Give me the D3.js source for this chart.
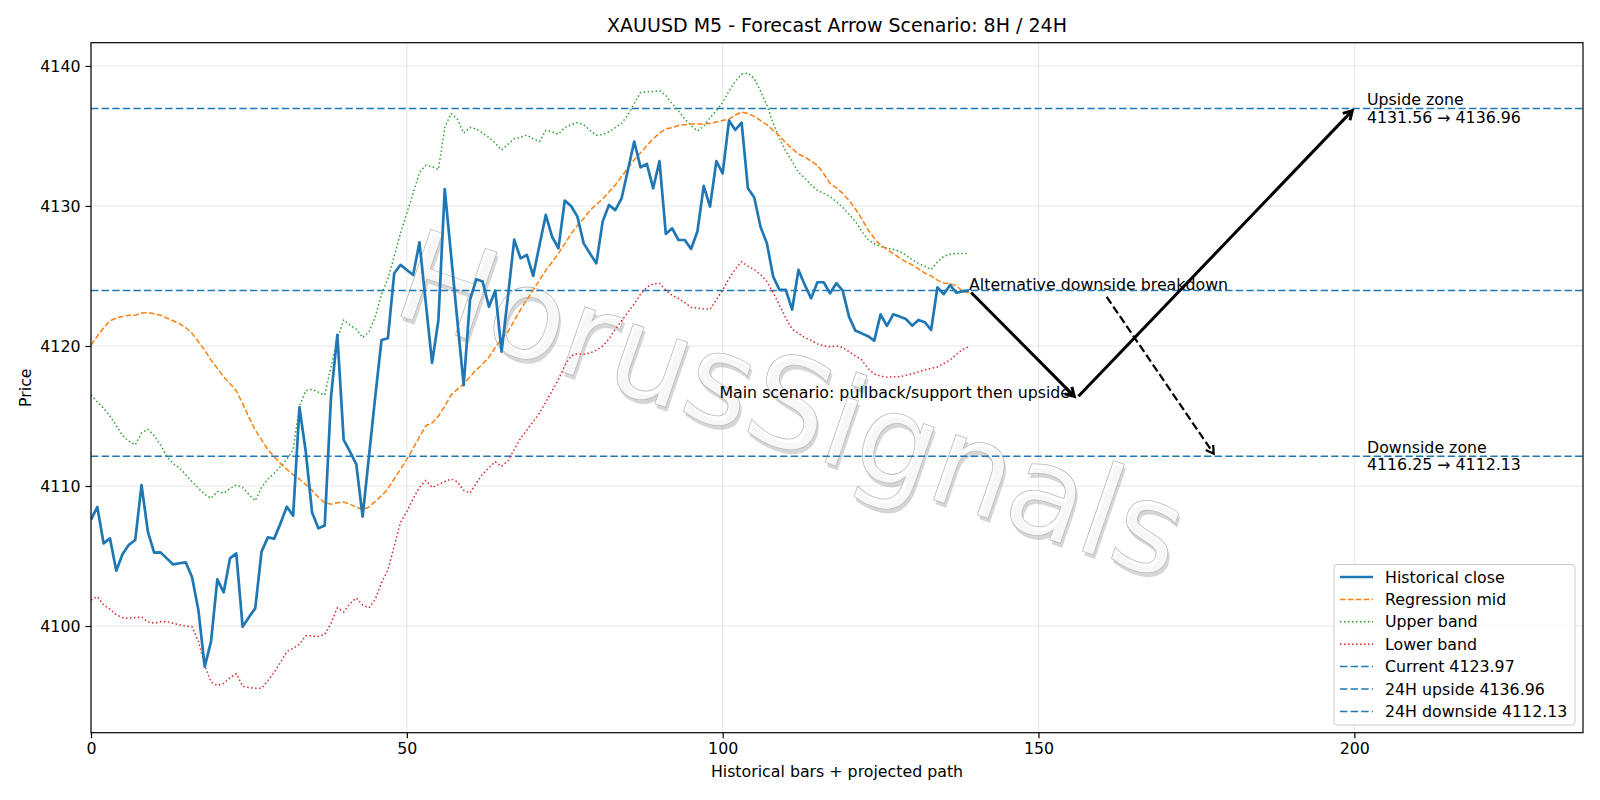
<!DOCTYPE html>
<html>
<head>
<meta charset="utf-8">
<script src="https://cdn.jsdelivr.net/npm/d3@7"></script>
<style>
  body { margin: 0; background: #fff; }
  text { font-family: "DejaVu Sans", sans-serif; }
</style>
</head>
<body>
<svg id="chart" width="1600" height="800"></svg>
<script>
// historical series, one value per bar (index 0..139)
const closeVals = [4107.6,4108.5,4105.9,4106.26,4103.95,4105.14,4105.8,4106.14,4110.07,4106.74,
  4105.24,4105.26,4104.83,4104.4,4104.48,4104.55,4103.48,4101.14,4097.1,4098.88,
  4103.33,4102.4,4104.83,4105.19,4099.95,4100.62,4101.26,4105.31,4106.33,4106.24,
  4107.33,4108.52,4107.88,4115.62,4112.45,4108.1,4106.98,4107.17,4116.38,4120.79,
  4113.29,4112.45,4111.55,4107.81,4112.1,4116.38,4120.43,4120.55,4125.19,4125.79,
  4125.43,4125.07,4127.4,4123.1,4118.8,4121.86,4131.2,4126.5,4121.8,4117.2,
  4123.3,4124.76,4124.6,4122.8,4123.95,4119.6,4123.5,4127.6,4126.26,4126.5,
  4125.0,4127.2,4129.36,4127.8,4126.98,4130.38,4130.0,4129.24,4127.33,4126.6,
  4125.9,4128.88,4130.07,4129.7,4130.55,4132.57,4134.6,4132.76,4133.0,4131.26,
  4133.2,4128.0,4128.4,4127.57,4127.57,4126.93,4128.17,4131.43,4129.95,4133.2,
  4132.33,4136.1,4135.43,4135.95,4131.26,4130.6,4128.5,4127.33,4124.95,4124.0,
  4124.0,4122.6,4125.43,4124.36,4123.4,4124.55,4124.55,4123.76,4124.48,4123.95,
  4122.1,4121.1,4120.9,4120.7,4120.38,4122.26,4121.43,4122.26,4122.1,4121.93,
  4121.45,4121.86,4121.7,4121.14,4124.19,4123.7,4124.36,4123.8,4123.9,4123.97];

const midVals = [4120.07,4120.7,4121.3,4121.8,4122.0,4122.1,4122.2,4122.2,4122.35,4122.38,
  4122.3,4122.2,4122.0,4121.8,4121.6,4121.3,4120.9,4120.3,4119.7,4119.0,
  4118.4,4117.8,4117.3,4116.8,4115.9,4114.9,4114.0,4113.3,4112.6,4112.1,
  4111.6,4111.2,4110.8,4110.5,4110.1,4109.7,4109.2,4108.8,4108.7,4108.8,
  4108.85,4108.7,4108.5,4108.3,4108.5,4108.9,4109.3,4109.8,4110.5,4111.2,
  4111.9,4112.7,4113.5,4114.3,4114.5,4115.0,4115.7,4116.5,4116.9,4117.3,
  4117.8,4118.3,4118.7,4119.2,4119.9,4120.5,4121.0,4121.8,4122.6,4123.3,
  4124.0,4124.7,4125.4,4126.0,4126.6,4127.3,4128.0,4128.6,4129.1,4129.7,
  4130.1,4130.5,4131.0,4131.5,4132.1,4132.7,4133.3,4133.8,4134.3,4134.8,
  4135.2,4135.5,4135.6,4135.75,4135.8,4135.85,4135.85,4135.85,4135.9,4136.0,
  4136.1,4136.2,4136.5,4136.7,4136.6,4136.4,4136.1,4135.8,4135.4,4135.0,
  4134.5,4134.1,4133.7,4133.5,4133.2,4132.9,4132.3,4131.6,4131.3,4130.9,
  4130.4,4129.8,4129.1,4128.3,4127.7,4127.2,4126.9,4126.6,4126.3,4126.0,
  4125.8,4125.5,4125.2,4125.0,4124.7,4124.5,4124.45,4124.3,4123.9,4123.8];

const upperVals = [4116.5,4116.0,4115.55,4115.0,4114.3,4113.6,4113.2,4112.93,4113.8,4114.05,
  4113.6,4112.93,4112.1,4111.6,4111.3,4110.8,4110.3,4109.85,4109.4,4109.12,
  4109.6,4109.5,4109.8,4110.07,4109.9,4109.4,4108.95,4109.9,4110.5,4110.9,
  4111.38,4111.9,4112.6,4115.7,4116.8,4116.9,4116.7,4116.5,4118.5,4120.5,
  4121.86,4121.5,4121.2,4120.6,4121.0,4122.1,4123.7,4124.8,4126.4,4128.05,
  4129.5,4130.9,4132.4,4132.9,4132.8,4132.6,4135.6,4136.6,4136.2,4135.2,
  4135.6,4135.5,4135.2,4134.9,4134.5,4134.0,4134.4,4134.8,4134.9,4135.07,
  4134.8,4134.6,4135.4,4135.3,4135.12,4135.6,4135.8,4135.95,4135.8,4135.4,
  4135.05,4135.1,4135.3,4135.6,4135.9,4136.5,4137.33,4138.1,4138.15,4138.17,
  4138.24,4137.9,4137.3,4136.8,4136.2,4135.75,4135.35,4135.7,4136.3,4136.8,
  4137.4,4138.2,4138.9,4139.4,4139.5,4139.1,4138.2,4137.2,4135.9,4134.8,
  4133.9,4133.2,4132.4,4132.0,4131.5,4131.1,4130.9,4130.67,4130.3,4129.9,
  4129.4,4128.9,4128.2,4127.6,4127.3,4127.1,4127.0,4126.9,4126.75,4126.5,
  4126.15,4125.9,4125.7,4125.45,4126.0,4126.4,4126.55,4126.6,4126.6,4126.6];

const lowerVals = [4101.86,4102.1,4101.5,4101.2,4100.8,4100.6,4100.55,4100.6,4100.65,4100.3,
  4100.2,4100.3,4100.3,4100.2,4100.07,4100.0,4099.95,4098.9,4097.2,4096.0,
  4095.75,4095.9,4096.3,4096.6,4095.7,4095.6,4095.55,4095.55,4096.1,4096.7,
  4097.4,4098.17,4098.4,4098.7,4099.3,4099.3,4099.25,4099.4,4100.2,4101.3,
  4101.0,4101.6,4102.0,4101.5,4101.3,4101.9,4103.1,4104.0,4105.7,4107.4,
  4108.17,4109.1,4109.9,4110.4,4109.9,4110.1,4110.3,4110.5,4110.3,4109.7,
  4109.5,4110.2,4110.85,4111.3,4111.74,4111.4,4111.8,4112.6,4113.4,4114.0,
  4114.6,4115.2,4116.0,4116.8,4117.6,4118.6,4119.3,4119.45,4119.4,4119.5,
  4119.7,4120.0,4120.5,4121.2,4121.8,4122.4,4123.0,4123.7,4124.2,4124.43,
  4124.48,4124.0,4123.6,4123.4,4123.1,4122.75,4122.7,4122.65,4122.62,4123.3,
  4124.0,4124.8,4125.5,4126.02,4125.7,4125.45,4125.1,4124.6,4123.8,4122.9,
  4122.0,4121.2,4120.9,4120.6,4120.4,4120.15,4120.0,4119.95,4120.0,4119.9,
  4119.6,4119.3,4119.0,4118.4,4118.0,4117.85,4117.76,4117.8,4117.8,4117.9,
  4118.0,4118.15,4118.3,4118.4,4118.5,4118.75,4119.0,4119.4,4119.75,4119.95];

// levels and projected path
const currentPrice = 4123.97;
const upside24 = 4136.96;
const downside24 = 4112.13;
const upsideZone = [4131.56, 4136.96];
const downsideZone = [4116.25, 4112.13];
const pivotPoint = [156, 4116.25];
const upsideTarget = [200, 4136.96];
const altTarget = [178, 4112.13];

const xTicks = [0, 50, 100, 150, 200];
const yTicks = [4100, 4110, 4120, 4130, 4140];
const xLimits = [0, 236.2];
const yLimits = [4092.38, 4141.66];

const svg = d3.select('#chart');
const pL = 91, pR = 1583, pT = 42.7, pB = 732.7;
const fs = 15.8;

const x = d3.scaleLinear().domain(xLimits).range([pL, pR]);
const y = d3.scaleLinear().domain(yLimits).range([pB, pT]);

// grid
const grid = svg.append('g').attr('stroke', '#b0b0b0').attr('stroke-opacity', 0.3).attr('stroke-width', 1);
xTicks.forEach(t => grid.append('line').attr('x1', x(t)).attr('x2', x(t)).attr('y1', pT).attr('y2', pB));
yTicks.forEach(t => grid.append('line').attr('x1', pL).attr('x2', pR).attr('y1', y(t)).attr('y2', y(t)));

// watermark
const wm = svg.append('g').attr('transform', 'translate(792,405) rotate(19)');
wm.append('text').text('HorusSignals')
  .attr('x', 3).attr('y', 3.5)
  .attr('text-anchor', 'middle').attr('dominant-baseline', 'central')
  .attr('font-size', 126).attr('fill', '#777').attr('fill-opacity', 0.3);
wm.append('text').text('HorusSignals')
  .attr('text-anchor', 'middle').attr('dominant-baseline', 'central')
  .attr('font-size', 126).attr('fill', '#fff').attr('fill-opacity', 0.8)
  .attr('stroke', '#bbb').attr('stroke-width', 0.8);

const plot = svg.append('g');
plot.append('clipPath').attr('id', 'clip').append('rect')
  .attr('x', pL).attr('y', pT).attr('width', pR - pL).attr('height', pB - pT);
const inner = plot.append('g').attr('clip-path', 'url(#clip)');

const line = d3.line().x((d, i) => x(i)).y(d => y(d));

const series = [
  { vals: upperVals, color: '#2ca02c', w: 1.5, dash: '1.5,2.5' },
  { vals: lowerVals, color: '#d62728', w: 1.5, dash: '1.5,2.5' },
  { vals: midVals, color: '#ff7f0e', w: 1.5, dash: '5.5,2.4' },
  { vals: closeVals, color: '#1f77b4', w: 2.7, dash: null }
];

// level lines
[currentPrice, upside24, downside24].forEach(v => {
  inner.append('line').attr('x1', pL).attr('x2', pR).attr('y1', y(v)).attr('y2', y(v))
    .attr('stroke', '#1f77b4').attr('stroke-width', 1.5).attr('stroke-dasharray', '7.4,3.2');
});

series.forEach(s => {
  inner.append('path').datum(s.vals).attr('d', line)
    .attr('fill', 'none').attr('stroke', s.color).attr('stroke-width', s.w)
    .attr('stroke-dasharray', s.dash).attr('stroke-linejoin', 'round');
});

// arrows
function arrow(p1, p2, opts) {
  const dx = p2[0] - p1[0], dy = p2[1] - p1[1];
  const len = Math.hypot(dx, dy);
  const ux = dx / len, uy = dy / len;
  const a = [p1[0] + ux * opts.shrinkA, p1[1] + uy * opts.shrinkA];
  const b = [p2[0] - ux * 3, p2[1] - uy * 3];
  plot.append('line').attr('x1', a[0]).attr('y1', a[1]).attr('x2', b[0] - ux).attr('y2', b[1] - uy)
    .attr('stroke', '#000').attr('stroke-width', opts.w)
    .attr('stroke-dasharray', opts.dash || null);
  const hl = opts.hl, hw = opts.hw;
  const bx = b[0] - ux * hl, by = b[1] - uy * hl;
  plot.append('path')
    .attr('d', `M${bx - uy * hw},${by + ux * hw}L${b[0]},${b[1]}L${bx + uy * hw},${by - ux * hw}`)
    .attr('fill', 'none').attr('stroke', '#000').attr('stroke-width', opts.w)
    .attr('stroke-linejoin', 'miter');
}

const lastIdx = closeVals.length - 1;
arrow([x(lastIdx), y(currentPrice)], [x(pivotPoint[0]), y(pivotPoint[1])], { shrinkA: 3, w: 3, hl: 8.5, hw: 5 });
arrow([x(pivotPoint[0]), y(pivotPoint[1])], [x(upsideTarget[0]), y(upsideTarget[1])], { shrinkA: 3, w: 3, hl: 8.5, hw: 5 });

// annotation texts
const altText = plot.append('text').attr('x', x(lastIdx)).attr('y', y(currentPrice))
  .attr('font-size', fs).attr('fill', '#000').text('Alternative downside breakdown');
const bb = altText.node().getBBox();
{
  const cx = bb.x + bb.width / 2, cy = bb.y + bb.height / 2;
  const tx = x(altTarget[0]), ty = y(altTarget[1]);
  const dx = tx - cx, dy = ty - cy;
  const t = Math.min((bb.height / 2) / Math.abs(dy), (bb.width / 2) / Math.abs(dx));
  arrow([cx + dx * t, cy + dy * t], [tx, ty], { shrinkA: 3, w: 2.2, hl: 7.5, hw: 4.5, dash: '8.2,3.5' });
}

plot.append('text').attr('x', x(pivotPoint[0] - 1)).attr('y', y(pivotPoint[1]))
  .attr('text-anchor', 'end').attr('font-size', fs).attr('fill', '#000')
  .text('Main scenario: pullback/support then upside');

function zoneLabel(v, title, zone) {
  const t = plot.append('text').attr('font-size', fs).attr('fill', '#000');
  t.append('tspan').attr('x', x(upsideTarget[0] + 2)).attr('y', y(v) - 3.5).text(title);
  t.append('tspan').attr('x', x(upsideTarget[0] + 2)).attr('y', y(v) + 14.2)
    .text(zone[0].toFixed(2) + ' \u2192 ' + zone[1].toFixed(2));
}
zoneLabel(upside24, 'Upside zone', upsideZone);
zoneLabel(downside24, 'Downside zone', downsideZone);

// frame
svg.append('rect').attr('x', pL).attr('y', pT).attr('width', pR - pL).attr('height', pB - pT)
  .attr('fill', 'none').attr('stroke', '#000').attr('stroke-width', 1.2);

// axes
const xAxis = svg.append('g').attr('transform', `translate(0,${pB})`)
  .call(d3.axisBottom(x).tickValues(xTicks).tickSize(5.5).tickPadding(5).tickFormat(d3.format('d')));
const yAxis = svg.append('g').attr('transform', `translate(${pL},0)`)
  .call(d3.axisLeft(y).tickValues(yTicks).tickSize(5.5).tickPadding(5).tickFormat(d3.format('d')));
[xAxis, yAxis].forEach(a => {
  a.select('.domain').remove();
  a.selectAll('text').attr('font-size', fs).attr('fill', '#000').attr('font-family', '"DejaVu Sans", sans-serif');
  a.selectAll('line').attr('stroke', '#000').attr('stroke-width', 1.2);
});

svg.append('text').attr('x', (pL + pR) / 2).attr('y', 777).attr('text-anchor', 'middle')
  .attr('font-size', fs).text('Historical bars + projected path');
svg.append('text').attr('transform', `translate(31,${(pT + pB) / 2}) rotate(-90)`)
  .attr('text-anchor', 'middle').attr('font-size', fs).text('Price');
svg.append('text').attr('x', (pL + pR) / 2).attr('y', 32).attr('text-anchor', 'middle')
  .attr('font-size', 19).text('XAUUSD M5 - Forecast Arrow Scenario: 8H / 24H');

// legend
const legendItems = [
  { label: 'Historical close', color: '#1f77b4', w: 2.7, dash: null },
  { label: 'Regression mid', color: '#ff7f0e', w: 1.5, dash: '5.5,2.4' },
  { label: 'Upper band', color: '#2ca02c', w: 1.5, dash: '1.5,2.5' },
  { label: 'Lower band', color: '#d62728', w: 1.5, dash: '1.5,2.5' },
  { label: 'Current ' + currentPrice.toFixed(2), color: '#1f77b4', w: 1.5, dash: '7.4,3.2' },
  { label: '24H upside ' + upside24.toFixed(2), color: '#1f77b4', w: 1.5, dash: '7.4,3.2' },
  { label: '24H downside ' + downside24.toFixed(2), color: '#1f77b4', w: 1.5, dash: '7.4,3.2' }
];
const lg = svg.append('g');
lg.append('rect').attr('x', 1334).attr('y', 564.5).attr('width', 241).attr('height', 160.5).attr('rx', 3)
  .attr('fill', '#fff').attr('fill-opacity', 0.8).attr('stroke', '#cccccc').attr('stroke-width', 1);
legendItems.forEach((d, i) => {
  const cy = 577 + i * 22.4;
  lg.append('line').attr('x1', 1340).attr('x2', 1373).attr('y1', cy).attr('y2', cy)
    .attr('stroke', d.color).attr('stroke-width', d.w).attr('stroke-dasharray', d.dash);
  lg.append('text').attr('x', 1385).attr('y', cy + 5.6).attr('font-size', fs).text(d.label);
});
</script>
</body>
</html>
